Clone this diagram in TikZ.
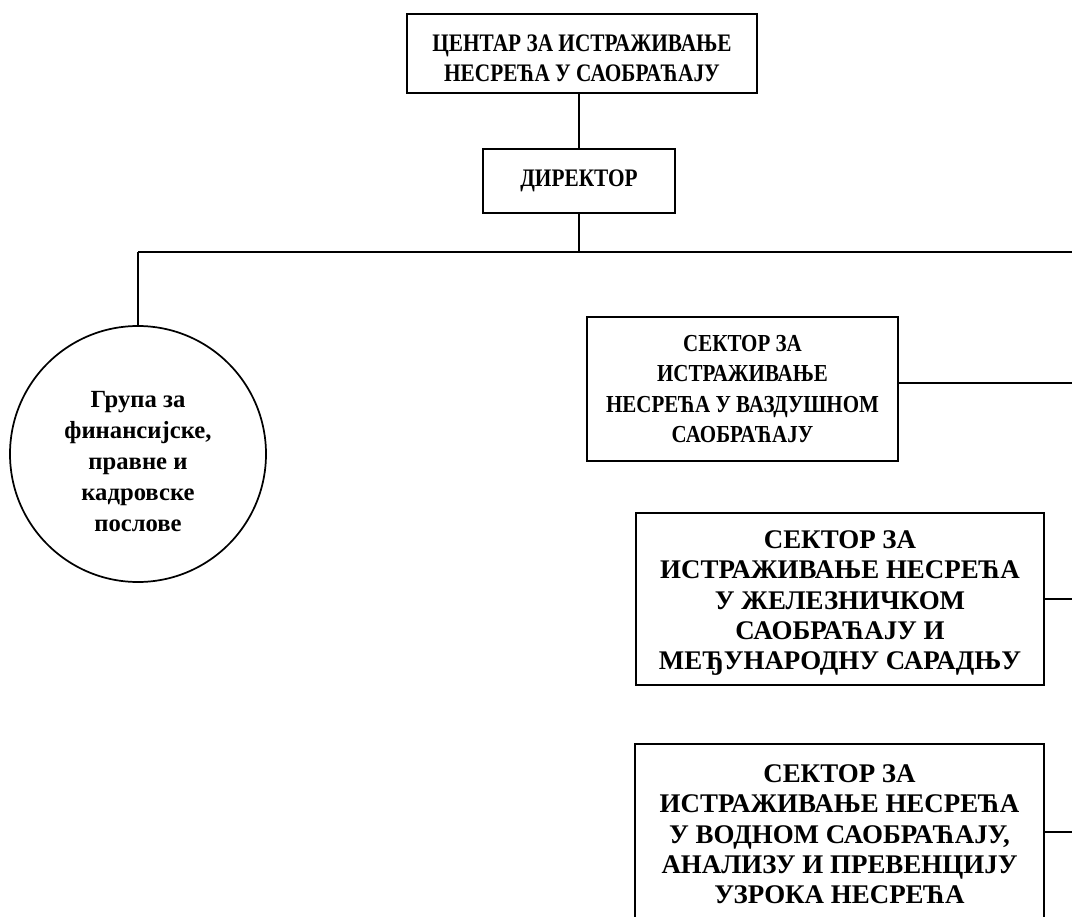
\documentclass[tikz,border=0pt]{standalone}
\usepackage{fontspec}
\setmainfont{Liberation Serif}
\newfontfamily\narrowserif{Liberation Serif}[FakeStretch=0.845]
\newfontfamily\narrowserifB{Liberation Serif}[FakeStretch=0.86]
\begin{document}
\begin{tikzpicture}[x=0.75pt,y=-0.75pt,
  line width=1.3pt,
  txt/.style={align=center, inner sep=0pt},
  boxed/.style={txt, draw, rectangle},
  roundbox/.style={txt, draw, circle},
  headfont/.style={font=\narrowserif\fontsize{18.9}{22.5}\selectfont\bfseries},
  smallfont/.style={font=\narrowserifB\fontsize{18.3}{22.9}\selectfont\bfseries},
  bigfont/.style={font=\fontsize{20.2}{22.8}\selectfont\bfseries},
  roundfont/.style={font=\fontsize{18.5}{23.3}\selectfont\bfseries}]
\useasboundingbox (0,0) rectangle (1072,917);
\clip (0,0) rectangle (1072,917);
\node[boxed, headfont, minimum width=350*0.75pt, minimum height=79*0.75pt] (top) at (582,53.5)
  {\rule{0pt}{19pt}ЦЕНТАР ЗА ИСТРАЖИВАЊЕ\\НЕСРЕЋА У САОБРАЋАЈУ};
\node[boxed, headfont, minimum width=192*0.75pt, minimum height=64*0.75pt] (dir) at (579,181) {ДИРЕКТОР};
\node[roundbox, roundfont, minimum size=256*0.75pt] (grp) at (138,454)
  {\rule{0pt}{23pt}Група за\\финансијске,\\правне и\\кадровске\\послове};
\node[boxed, smallfont, minimum width=311*0.75pt, minimum height=144*0.75pt] (s1) at (742.5,389)
  {СЕКТОР ЗА\\ИСТРАЖИВАЊЕ\\НЕСРЕЋА У ВАЗДУШНОМ\\САОБРАЋАЈУ};
\node[boxed, bigfont, minimum width=408*0.75pt, minimum height=172*0.75pt] (s2) at (840,599)
  {\rule{0pt}{19.7pt}СЕКТОР ЗА\\ИСТРАЖИВАЊЕ НЕСРЕЋА\\У ЖЕЛЕЗНИЧКОМ\\САОБРАЋАЈУ И\\МЕЂУНАРОДНУ САРАДЊУ};
\node[boxed, bigfont, minimum width=409*0.75pt, minimum height=176*0.75pt] (s3) at (839.5,832)
  {\rule{0pt}{16.7pt}СЕКТОР ЗА\\ИСТРАЖИВАЊЕ НЕСРЕЋА\\У ВОДНОМ САОБРАЋАЈУ,\\АНАЛИЗУ И ПРЕВЕНЦИЈУ\\УЗРОКА НЕСРЕЋА};
\coordinate (bus) at (579,252);
\coordinate (busR) at (1076,252);
\coordinate (c1) at (1076,383);
\coordinate (c2) at (1076,599);
\coordinate (c3) at (1076,832);
\draw (top.south -| dir.north) -- (dir.north);
\draw (dir.south) -- (bus);
\draw (grp.north |- bus) -- (busR);
\draw (grp.north |- bus) -- (grp.north);
\draw (s1.east |- c1) -- (c1);
\draw (s2.east) -- (c2);
\draw (s3.east) -- (c3);
\end{tikzpicture}
\end{document}
